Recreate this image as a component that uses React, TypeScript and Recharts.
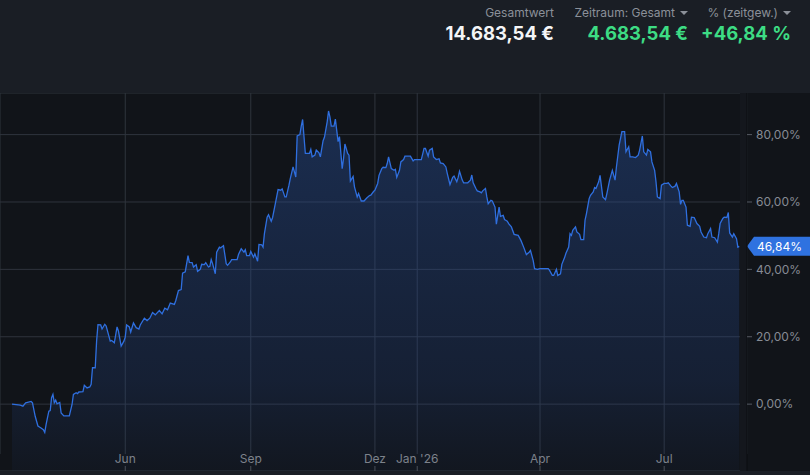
import React from "react";
import {
  AreaChart,
  Area,
  XAxis,
  YAxis,
  CartesianGrid,
  ReferenceLine,
} from "recharts";

// days since 10 Mar 2025
const dayOffsets = [
  0, 6, 8, 10, 14, 15, 17, 19, 21, 23, 24, 25, 27, 28, 29, 30, 31, 32, 33, 35, 36, 38, 42, 44, 45, 47, 48, 49,
  52, 53, 55, 57, 58, 59, 61, 62, 63, 65, 66, 68, 69, 72, 73, 75, 77, 78, 80, 82, 83, 84, 86, 87, 89, 91, 93,
  94, 97, 99, 101, 103, 105, 108, 110, 112, 114, 116, 119, 120, 122, 124, 125, 127, 129, 130, 132, 133, 135,
  136, 138, 139, 141, 142, 144, 145, 146, 147, 149, 150, 152, 153, 155, 157, 158, 160, 161, 165, 166, 168,
  170, 171, 172, 174, 175, 177, 178, 180, 181, 183, 184, 185, 187, 188, 190, 191, 193, 195, 197, 198, 200,
  201, 203, 204, 206, 208, 209, 211, 212, 213, 215, 216, 218, 219, 220, 222, 223, 225, 226, 228, 229, 231,
  232, 233, 234, 236, 237, 239, 240, 242, 243, 244, 246, 247, 248, 250, 251, 253, 254, 256, 258, 260, 262,
  263, 265, 266, 268, 269, 271, 272, 274, 275, 276, 278, 280, 281, 282, 284, 285, 287, 288, 292, 294, 295,
  300, 302, 303, 305, 306, 308, 309, 311, 313, 314, 316, 318, 319, 321, 323, 324, 326, 327, 328, 330, 331,
  334, 336, 337, 338, 340, 341, 343, 344, 345, 347, 348, 349, 351, 352, 354, 355, 357, 358, 360, 361, 363,
  364, 366, 368, 371, 373, 375, 377, 379, 380, 382, 383, 385, 387, 393, 394, 396, 397, 399, 400, 402, 403,
  405, 406, 408, 409, 410, 411, 413, 414, 416, 417, 419, 420, 421, 423, 424, 426, 427, 428, 430, 431, 433,
  435, 436, 438, 440, 442, 443, 445, 447, 449, 450, 452, 453, 455, 457, 459, 460, 462, 463, 465, 466, 468,
  469, 471, 472, 473, 475, 476, 478, 480, 481, 483, 484, 486, 487, 489, 490, 491, 492, 494, 495, 497, 498,
  500, 502, 504, 505, 507, 509, 510, 512, 513, 515, 517, 518, 519, 521, 522, 524, 525, 526, 528, 529, 531,
  532, 533,
];

// time-weighted return in %
const returnPct = [
  0.0, -0.3, -0.6, 0.4, 0.8, 0.4, -3.6, -6.5, -7.0, -7.6, -8.4, -6.0, -2.1, -1.9, 1.9, 2.9, 0.4, 1.2, 0.1, 0.5,
  -2.6, -3.5, -3.5, -0.1, 2.9, 3.4, 3.1, 3.6, 3.7, 5.6, 4.8, 5.1, 5.9, 10.8, 10.8, 18.7, 23.6, 23.5, 22.3, 23.7,
  23.2, 18.7, 18.9, 18.2, 22.9, 21.7, 17.2, 18.7, 19.9, 23.5, 22.9, 21.4, 24.1, 22.7, 22.3, 23.5, 25.5, 24.8,
  25.5, 27.2, 26.5, 27.8, 26.8, 28.5, 28.0, 30.0, 29.6, 30.7, 33.7, 34.0, 38.9, 39.3, 44.1, 42.1, 42.0, 40.7,
  41.4, 39.4, 40.0, 41.5, 41.4, 42.0, 40.7, 40.9, 42.9, 41.7, 38.7, 45.1, 46.6, 46.4, 47.0, 41.7, 41.2, 42.2,
  42.9, 42.9, 44.4, 46.1, 45.1, 45.8, 44.1, 44.1, 45.3, 43.6, 44.6, 42.4, 47.4, 47.3, 46.6, 50.6, 55.5, 56.2,
  54.3, 55.4, 59.5, 63.7, 63.5, 63.9, 61.5, 61.5, 65.0, 67.0, 70.4, 67.4, 79.6, 80.0, 82.5, 84.5, 74.4, 74.4,
  74.4, 75.6, 73.4, 73.9, 75.4, 74.6, 73.4, 78.2, 79.2, 83.8, 87.0, 85.3, 82.5, 82.5, 84.6, 77.9, 79.4, 69.9,
  72.9, 77.2, 74.4, 73.9, 66.2, 67.6, 64.5, 61.5, 62.5, 60.3, 60.3, 61.2, 61.9, 62.0, 63.1, 63.5, 65.5, 67.9,
  69.9, 70.3, 70.2, 71.4, 73.4, 69.9, 69.4, 69.7, 67.3, 69.4, 71.9, 72.6, 73.6, 73.6, 72.2, 72.6, 72.6, 75.9,
  75.9, 73.6, 75.4, 75.9, 73.4, 72.6, 72.8, 71.6, 71.4, 70.4, 68.5, 65.2, 67.3, 67.7, 66.0, 67.3, 69.1, 66.5,
  65.7, 65.7, 66.5, 68.0, 65.7, 64.0, 63.3, 63.0, 62.7, 63.3, 64.0, 61.5, 59.5, 60.5, 60.3, 58.5, 53.4, 58.5,
  55.7, 56.0, 54.8, 54.3, 53.6, 52.6, 50.4, 50.1, 48.6, 46.6, 44.4, 45.1, 45.6, 42.6, 40.2, 40.0, 40.2, 40.2,
  39.7, 38.2, 38.2, 40.0, 38.2, 38.7, 41.5, 43.5, 44.8, 46.6, 50.6, 50.1, 51.6, 52.6, 51.1, 50.4, 48.8, 48.8,
  54.6, 56.5, 61.0, 62.0, 63.0, 64.3, 64.0, 66.0, 67.9, 61.5, 60.7, 62.5, 66.5, 69.4, 66.5, 70.4, 76.9, 80.9,
  80.9, 74.9, 76.4, 73.4, 73.4, 73.2, 73.9, 75.4, 79.6, 74.9, 73.9, 75.6, 74.9, 71.9, 69.4, 66.0, 61.5, 61.0,
  65.0, 65.5, 65.5, 65.7, 64.7, 64.3, 64.7, 65.5, 63.0, 59.3, 60.5, 60.5, 58.5, 53.1, 52.8, 55.5, 55.4, 53.6,
  52.8, 51.1, 49.6, 49.4, 50.6, 52.1, 49.6, 49.4, 48.1, 50.6, 53.6, 55.1, 55.5, 55.4, 56.9, 50.8, 49.6, 50.6,
  49.1, 46.6, 46.84,
];

const monthTickDays = [83, 175, 266, 297, 387, 478];
const monthTickLabels = ["Jun", "Sep", "Dez", "Jan '26", "Apr", "Jul"];
const pctTicks = [0, 20, 40, 60, 80];

const headerLabels = ["Gesamtwert", "Zeitraum: Gesamt", "% (zeitgew.)"];
const headerValues = ["14.683,54 €", "4.683,54 €", "+46,84 %"];

const data = dayOffsets.map((d, i) => ({ day: d, pct: returnPct[i] }));
const lastPct = returnPct[returnPct.length - 1];

const fmtPct = (v: number) => `${v.toFixed(2).replace(".", ",")}%`;

const GRID = "#2f343d";
const MUTED = "#868b94";
const GREEN = "#3ddc84";

function Caret() {
  return (
    <span
      style={{
        display: "inline-block",
        width: 0,
        height: 0,
        borderLeft: "4px solid transparent",
        borderRight: "4px solid transparent",
        borderTop: "4px solid #8b9099",
        marginLeft: 5,
        verticalAlign: "middle",
        position: "relative",
        top: -1,
      }}
    />
  );
}

function MonthTick(props: any) {
  const { x, y, index } = props;
  return (
    <g>
      <line x1={x} x2={x} y1={y - 5} y2={y} stroke="#4a4f58" />
      <text x={x} y={y - 8} textAnchor="middle" fontSize={12} fill="#7d828b">
        {monthTickLabels[index]}
      </text>
    </g>
  );
}

function Badge(props: any) {
  const vb = props.viewBox || {};
  const x0 = vb.x + vb.width;
  const y0 = vb.y;
  return (
    <g>
      <path
        d={`M${x0},${y0} L${x0 + 7},${y0 - 9.5} L810,${y0 - 9.5} L810,${y0 + 9.5} L${x0 + 7},${y0 + 9.5} Z`}
        fill="#2f72e0"
      />
      <text x={x0 + 10} y={y0} dy="0.36em" fontSize={12} fill="#ffffff">
        {fmtPct(lastPct)}
      </text>
    </g>
  );
}

export default function App() {
  const cols = [256, 122, 19];
  return (
    <div
      style={{
        position: "absolute",
        left: 0,
        top: 0,
        width: 810,
        height: 475,
        background: "#1a1e25",
        fontFamily: "Inter, 'Noto Sans', sans-serif",
        overflow: "hidden",
      }}
    >
      {cols.map((r, i) => (
        <div key={i} style={{ position: "absolute", right: r, top: 5, textAlign: "right" }}>
          <div style={{ fontSize: 12, lineHeight: "16px", color: "#8b9099", whiteSpace: "nowrap" }}>
            {headerLabels[i]}
            {i > 0 && <Caret />}
          </div>
          <div
            style={{
              fontSize: 18.5,
              lineHeight: "24px",
              fontWeight: 700,
              color: i === 0 ? "#f4f5f7" : GREEN,
              whiteSpace: "nowrap",
            }}
          >
            {headerValues[i]}
          </div>
        </div>
      ))}

      <div
        style={{
          position: "absolute",
          left: 0,
          top: 93,
          width: 810,
          height: 378,
          background: "#111419",
          overflow: "hidden",
        }}
      >
        <AreaChart width={810} height={398} data={data} margin={{ top: 0, right: 0, left: 0, bottom: 0 }}>
          <defs>
            <linearGradient id="twrFill" x1="0" y1="0" x2="0" y2="1">
              <stop offset="0%" stopColor="#2a56a8" stopOpacity={0.65} />
              <stop offset="75%" stopColor="#25488f" stopOpacity={0.38} />
              <stop offset="100%" stopColor="#23468c" stopOpacity={0.1} />
            </linearGradient>
          </defs>
          <rect x={740} y={0} width={7} height={378} fill="#14171d" />
          <CartesianGrid
            stroke={GRID}
            horizontal={(p: any) => (
              <line key={p.key} x1={p.x1} x2={p.x2 - 7} y1={p.y1} y2={p.y2} stroke={GRID} strokeWidth={1} />
            )}
            vertical={(p: any) => (
              <line key={p.key} x1={p.x1} x2={p.x2} y1={p.y1} y2={p.y2 - 17} stroke={GRID} strokeWidth={1} />
            )}
          />
          <XAxis
            dataKey="day"
            type="number"
            domain={[-8.8, 538.7]}
            allowDataOverflow
            ticks={monthTickDays}
            height={20}
            axisLine={false}
            tickLine={false}
            tickSize={0}
            tickMargin={0}
            tick={<MonthTick />}
            interval={0}
          />
          <YAxis
            orientation="right"
            width={63}
            type="number"
            domain={[-19.85, 92.35]}
            allowDataOverflow
            ticks={pctTicks}
            tickFormatter={fmtPct}
            tickSize={5}
            tickMargin={4}
            tickLine={{ stroke: "#555a63" }}
            axisLine={{ stroke: "#0b0d10" }}
            tick={{ fontSize: 12, fill: MUTED }}
            interval={0}
          />
          <Area
            type="linear"
            dataKey="pct"
            stroke="#2f6fdf"
            strokeWidth={1.3}
            fill="url(#twrFill)"
            baseValue={-19.85}
            dot={false}
            activeDot={false}
            isAnimationActive={false}
          />
          <ReferenceLine y={lastPct} stroke="none" ifOverflow="visible" label={<Badge />} />
        </AreaChart>
      </div>
    </div>
  );
}
